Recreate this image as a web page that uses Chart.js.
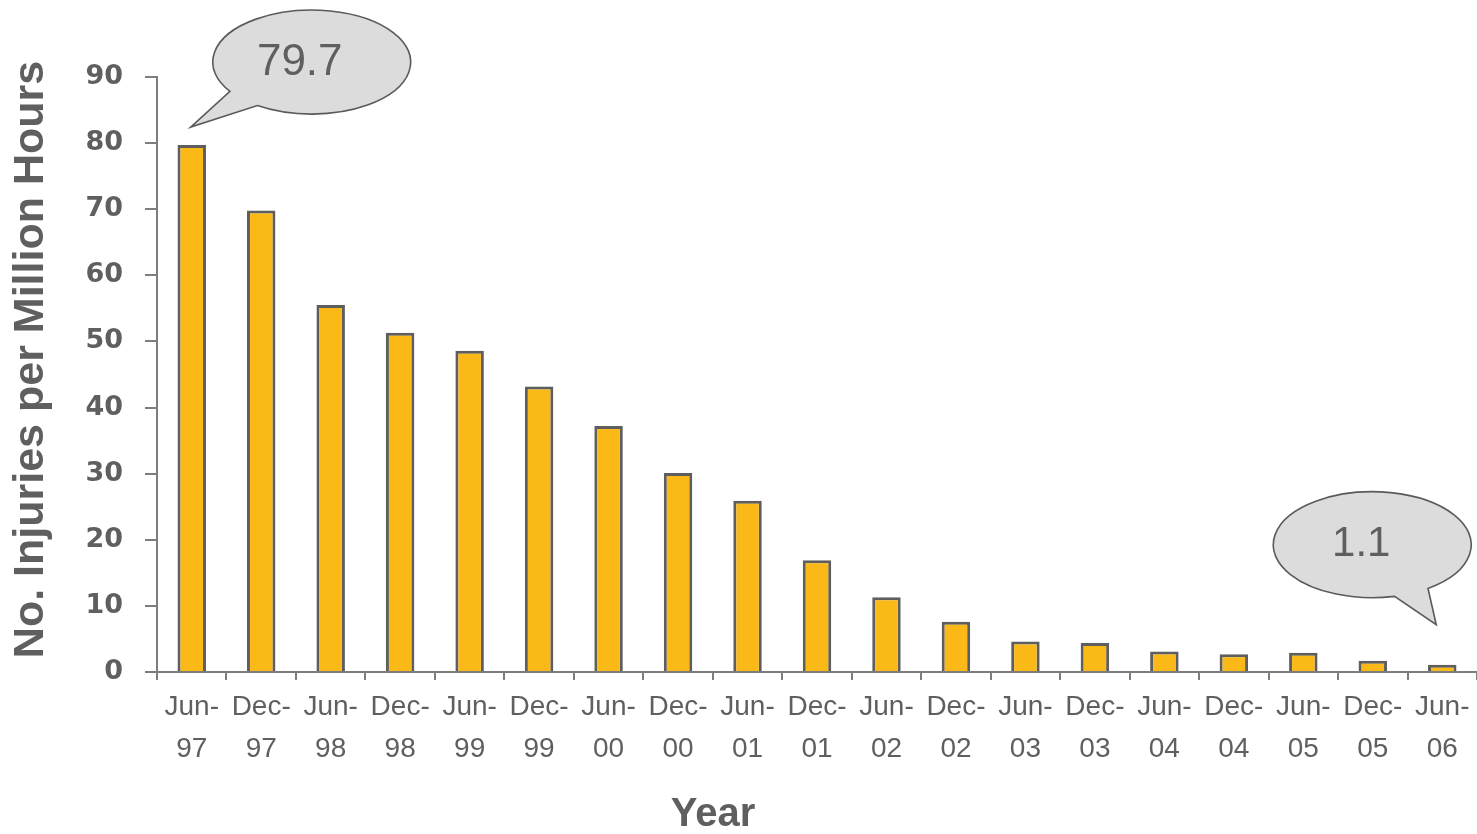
<!DOCTYPE html>
<html>
<head>
<meta charset="utf-8">
<script src="https://cdn.jsdelivr.net/npm/chart.js@4.4.0/dist/chart.umd.min.js"></script>
<style>
  html, body { margin: 0; padding: 0; background: #ffffff; }
  #wrap { width: 1477px; height: 834px; }
</style>
</head>
<body>
<div id="wrap"><canvas id="c" width="1477" height="834"></canvas></div>
<script>
// Half-yearly injury frequency rate
const periods = ['Jun-97','Dec-97','Jun-98','Dec-98','Jun-99','Dec-99','Jun-00','Dec-00','Jun-01','Dec-01',
                 'Jun-02','Dec-02','Jun-03','Dec-03','Jun-04','Dec-04','Jun-05','Dec-05','Jun-06'];
const injuryRate = [79.7, 69.8, 55.5, 51.3, 48.6, 43.2, 37.2, 30.1, 25.9, 16.9,
                    11.3, 7.6, 4.6, 4.4, 3.1, 2.7, 2.9, 1.7, 1.1];
const yTicks = [0, 10, 20, 30, 40, 50, 60, 70, 80, 90];
const yTitle = 'No. Injuries per Million Hours';
const xTitle = 'Year';
// bars that get a speech-bubble callout with their value
const calloutIndices = [0, 18];

const TEXT = '#5f5f5f';
const AXIS = '#7d7d7d';

// two-line category labels: "Jun-" / "97"
const tickLabels = periods.map(p => { const i = p.indexOf('-'); return [p.slice(0, i + 1), p.slice(i + 1)]; });

function bubble(ctx, cx, cy, rx, ry, base1, base2, tip, text, textX, textY, fontPx) {
  // ellipse outline running the long way from base1 to base2, then out to the tail tip
  const a1 = Math.atan2((base1[1] - cy) / ry, (base1[0] - cx) / rx);
  const a2 = Math.atan2((base2[1] - cy) / ry, (base2[0] - cx) / rx);
  let d = a2 - a1;
  while (d > Math.PI) d -= Math.PI * 2;
  while (d < -Math.PI) d += Math.PI * 2;
  ctx.save();
  ctx.beginPath();
  ctx.ellipse(cx, cy, rx, ry, 0, a1, a2, d > 0);
  ctx.lineTo(tip[0], tip[1]);
  ctx.closePath();
  ctx.fillStyle = '#dcdcdc';
  ctx.fill();
  ctx.lineWidth = 1.6;
  ctx.strokeStyle = '#5a5a5a';
  ctx.lineJoin = 'miter';
  ctx.stroke();
  ctx.fillStyle = TEXT;
  ctx.font = fontPx + 'px "Liberation Sans", Arial, sans-serif';
  ctx.textAlign = 'center';
  ctx.textBaseline = 'middle';
  ctx.fillText(text, textX, textY);
  ctx.restore();
}

const overlay = {
  id: 'overlay',
  afterDraw(chart) {
    const ctx = chart.ctx;
    const meta = chart.getDatasetMeta(0);
    const area = chart.chartArea;

    // axis titles
    ctx.save();
    ctx.fillStyle = TEXT;
    ctx.font = 'bold 43px "Liberation Sans", Arial, sans-serif';
    ctx.textAlign = 'center';
    ctx.textBaseline = 'middle';
    ctx.translate(31, area.top + (area.bottom - area.top) / 2 - 15);
    ctx.rotate(-Math.PI / 2);
    ctx.fillText(yTitle, 0, 0);
    ctx.restore();

    ctx.save();
    ctx.fillStyle = TEXT;
    ctx.font = 'bold 40px "Liberation Sans", Arial, sans-serif';
    ctx.textAlign = 'center';
    ctx.textBaseline = 'middle';
    ctx.fillText(xTitle, 713, 815);
    ctx.restore();

    // callouts
    calloutIndices.forEach(i => {
      const bar = meta.data[i];
      const v = injuryRate[i];
      if (i === 0) {
        const tip = [bar.x - 1, bar.y - 18];
        const cx = tip[0] + 121, cy = tip[1] - 65;
        bubble(ctx, cx, cy, 99, 52, [tip[0] + 40, tip[1] - 36], [tip[0] + 66, tip[1] - 21], tip,
               v.toFixed(1), cx - 12, cy + 1, 44);
      } else {
        const tip = [bar.x - 6, bar.y - 40];
        const cx = tip[0] - 64, cy = tip[1] - 80;
        bubble(ctx, cx, cy, 99, 53, [tip[0] - 8, tip[1] - 36], [tip[0] - 42, tip[1] - 29], tip,
               v.toFixed(1), cx - 11, cy, 42);
      }
    });
  }
};

new Chart(document.getElementById('c'), {
  type: 'bar',
  data: {
    labels: tickLabels,
    datasets: [{
      data: injuryRate,
      backgroundColor: '#fbb917',
      borderColor: '#5e5e5e',
      borderWidth: 3,
      borderSkipped: 'bottom',
      categoryPercentage: 1,
      barPercentage: 0.41
    }]
  },
  options: {
    responsive: false,
    animation: false,
    devicePixelRatio: 1,
    layout: { padding: { top: 77, right: -2, left: 0, bottom: 0 } },
    plugins: { legend: { display: false }, tooltip: { enabled: false } },
    scales: {
      x: {
        offset: true,
        grid: {
          offset: true,
          drawOnChartArea: false,
          drawTicks: true,
          tickLength: 8,
          color: AXIS,
          lineWidth: 2
        },
        border: { color: AXIS, width: 2 },
        ticks: {
          color: TEXT,
          maxRotation: 0,
          autoSkip: false,
          padding: 6,
          font: { family: '"Liberation Sans", Arial, sans-serif', size: 28, lineHeight: 1.5 }
        },
        afterFit(scale) { scale.height = 162; }
      },
      y: {
        min: 0,
        max: 90,
        afterBuildTicks(scale) { scale.ticks = yTicks.map(v => ({ value: v })); },
        grid: {
          drawOnChartArea: false,
          drawTicks: true,
          tickLength: 12,
          color: AXIS,
          lineWidth: 2
        },
        border: { color: AXIS, width: 2 },
        ticks: {
          color: TEXT,
          padding: 22,
          font: { family: '"DejaVu Sans", sans-serif', size: 27, weight: 'bold' }
        },
        afterFit(scale) { scale.width = 157; }
      }
    }
  },
  plugins: [overlay]
});
</script>
</body>
</html>
